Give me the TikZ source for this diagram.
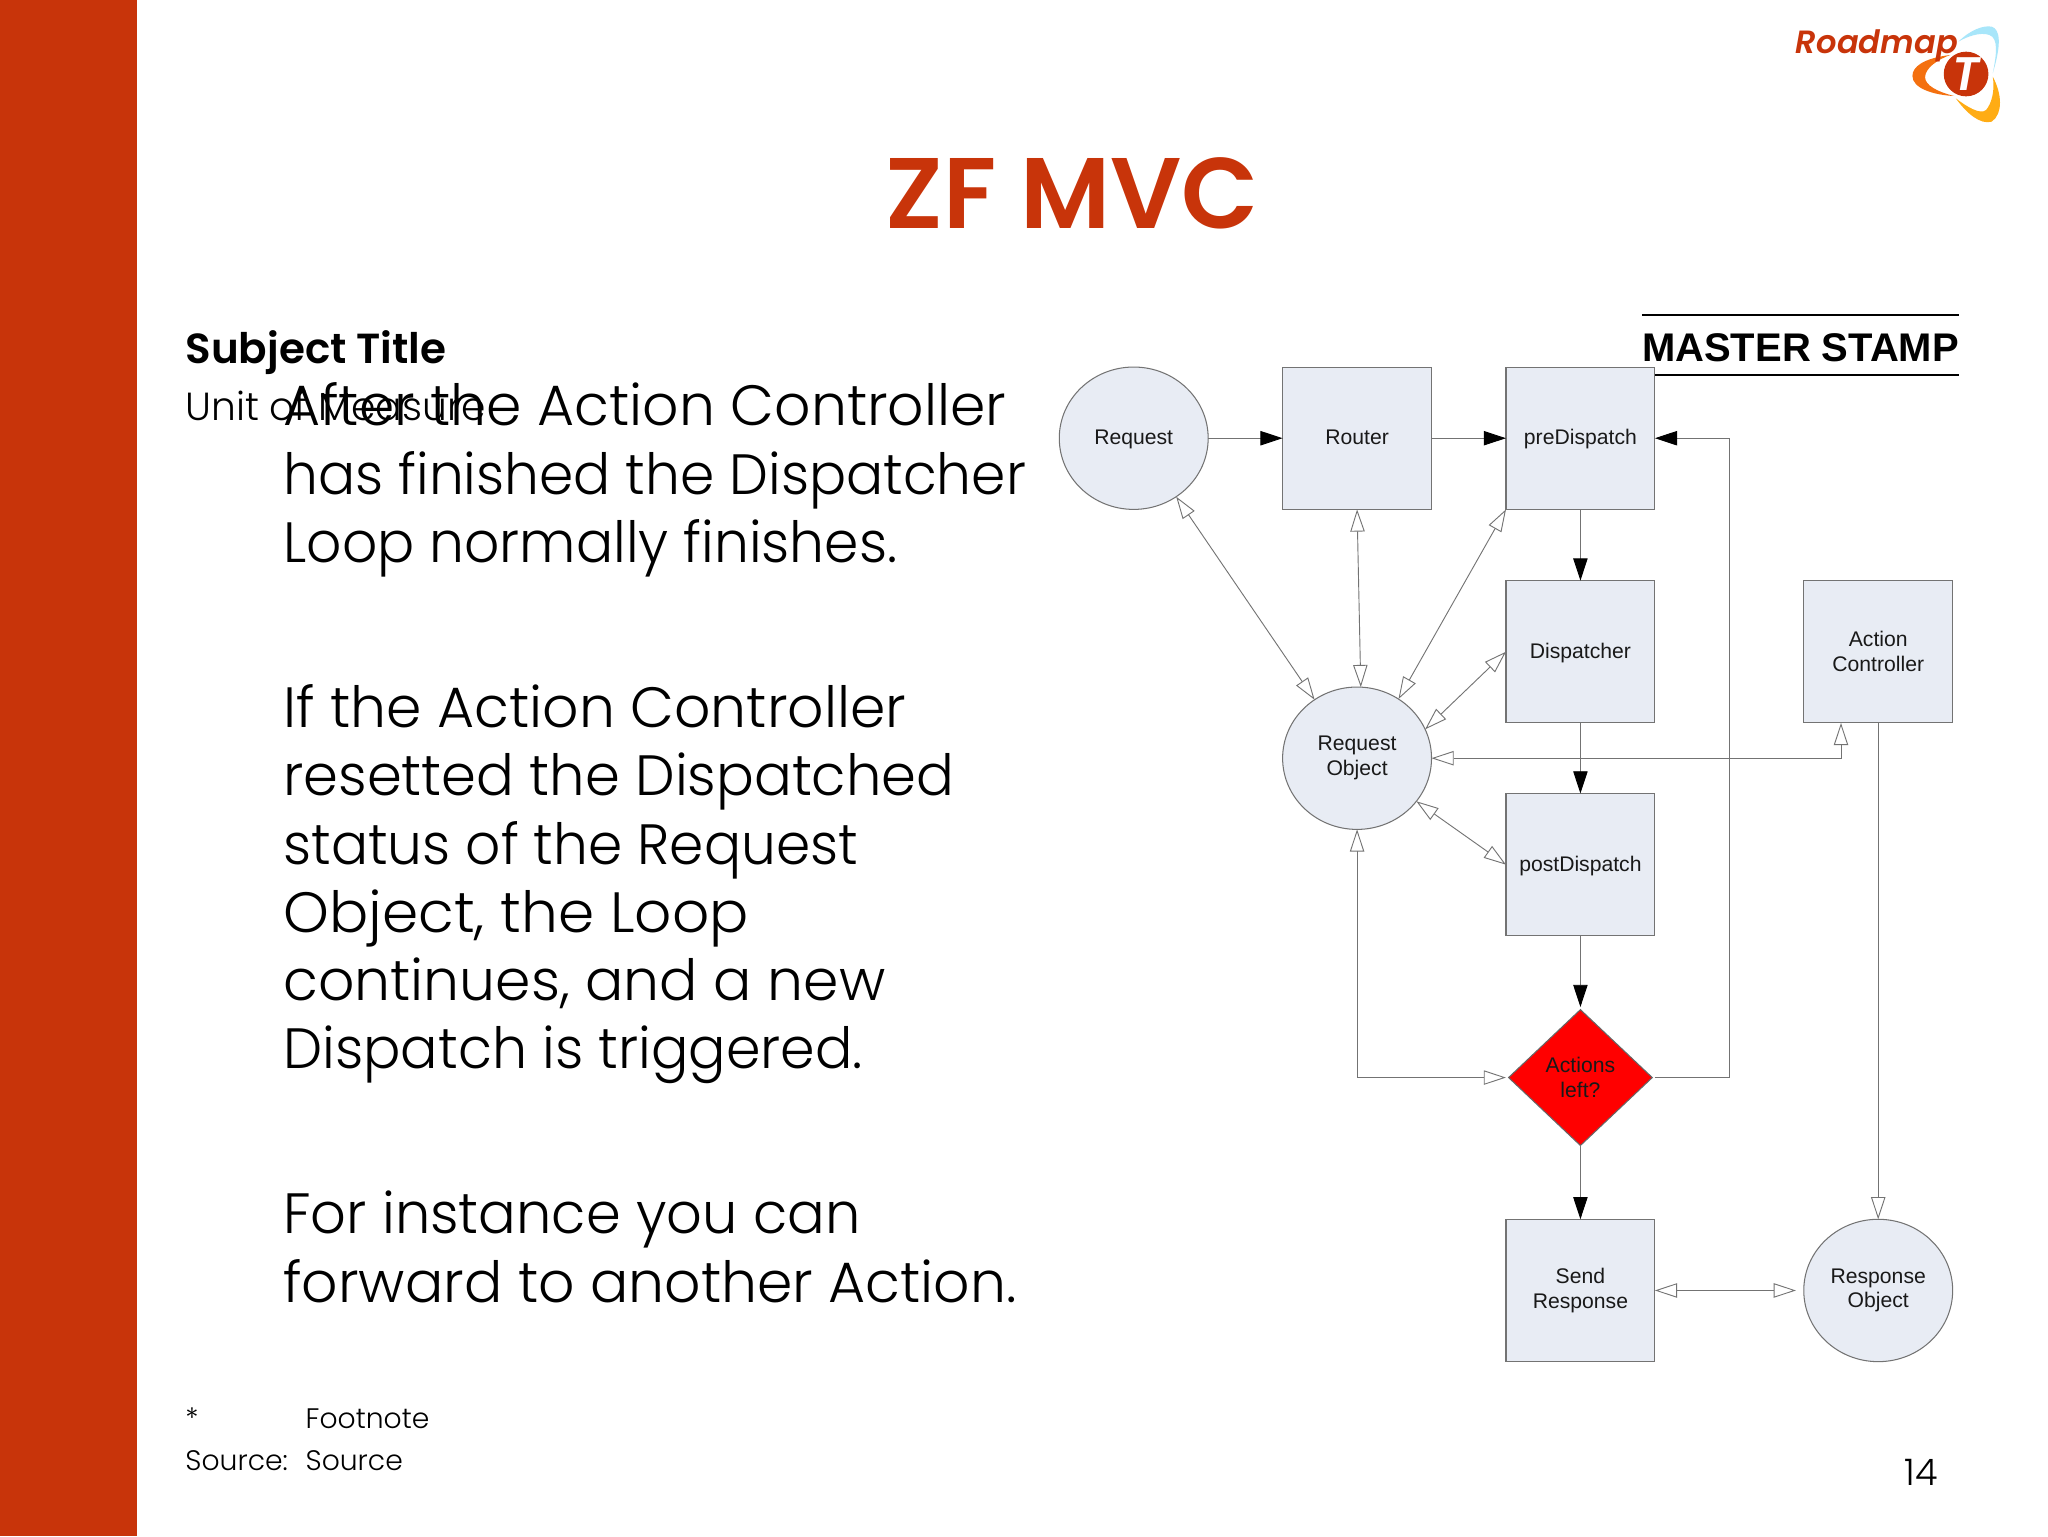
\documentclass[tikz,border=0pt]{standalone}
\usepackage{fontspec}
\setmainfont{Poppins Light}[BoldFont=Poppins SemiBold,ItalicFont=Poppins Light Italic,BoldItalicFont=Poppins SemiBold Italic]
\newfontfamily\arialf{Liberation Sans}
\usetikzlibrary{shapes.geometric,arrows.meta,calc}
\definecolor{brick}{HTML}{C8340A}
\definecolor{pale}{HTML}{E8ECF4}
\definecolor{edge}{gray}{0.45}
\definecolor{logoblue}{HTML}{A8E6FA}
\definecolor{logoorange}{HTML}{F4700F}
\definecolor{logoyellow}{HTML}{FFAC14}
\newcommand{\fs}[2]{\fontsize{#1}{#2}\selectfont}
\newcommand{\sq}[2]{\scalebox{#1}[1]{#2}}
\tikzset{
  boxnode/.style={draw=edge,fill=pale,line width=.8pt,minimum width=114pt,minimum height=109pt,inner sep=0pt,outer sep=0pt,align=center,font=\arialf\fs{16.2}{19},text=black!90},
  roundnode/.style={boxnode,ellipse},
  oneline/.style={text height=13.5pt,text depth=3.5pt},
  decide/.style={boxnode,diamond,fill=red,draw=black!60,minimum width=110pt,minimum height=104pt},
  link/.style={draw=edge,line width=.7pt},
  solidhead/.style={link,-{Triangle[length=17pt,width=11pt,fill=black,color=black]}},
  openhead/.style={link,-{Triangle[open,length=17pt,width=11pt,fill=white]}},
  openboth/.style={link,{Triangle[open,length=17pt,width=11pt,fill=white]}-{Triangle[open,length=17pt,width=11pt,fill=white]}},
  slide/.style={inner sep=0pt,outer sep=0pt,text=black},
  body/.style={slide,anchor=north west,align=left,font=\fs{43.5}{52.3}},
}
\begin{document}
\begin{tikzpicture}[x=1pt,y=-1pt]
\useasboundingbox (0,0) rectangle (1568,1176);
\fill[white] (0,0) rectangle (1568,1176);
\fill[brick] (0,0) rectangle (105,1176);
% logo
\begin{scope}[shift={(1339.9,0)},scale=0.2552]
\fill[logoblue] (625,125) .. controls (660,90) and (700,75) .. (725,80) .. controls (750,88) and (755,130) .. (728,220) .. controls (740,160) and (745,115) .. (718,105) .. controls (690,95) and (650,110) .. (625,125);
\fill[logoorange] (600,165) .. controls (520,175) and (487,200) .. (487,228) .. controls (487,265) and (550,285) .. (612,288) .. controls (560,275) and (525,255) .. (525,232) .. controls (525,205) and (560,180) .. (600,165);
\fill[logoyellow] (728,230) .. controls (755,280) and (760,340) .. (725,365) .. controls (690,375) and (650,340) .. (617,295) .. controls (650,320) and (690,345) .. (708,330) .. controls (725,310) and (735,270) .. (728,230);
\fill[brick] (648,222) circle (67);
\end{scope}
\node[slide,text=white,font=\bfseries\itshape\fs{36}{36}] (logoT) at (1505,57) {T};
\node[slide,anchor=base west,text=brick,font=\bfseries\itshape\fs{24.6}{25}] (logotext) at (1375,41) {Roadmap};
% title and texts
\node[slide,text=brick,font=\bfseries\fs{76.8}{80}] (title) at (821,148) {ZF MVC};
\node[slide,anchor=base west,font=\bfseries\fs{32.2}{34}] (subject) at (142,278) {Subject Title};
\node[slide,anchor=base west,font=\fs{30}{30}] (unit) at (142,322) {Unit of Measure};
\node[body] (p1) at (217,293) {After the Action Controller\\\sq{.969}{has finished the Dispatcher}\\\sq{.97}{Loop normally finishes.}};
\node[body] (p2) at (217,524) {If the Action Controller\\\sq{.986}{resetted the Dispatched}\\\sq{.968}{status of the Request}\\\sq{1.024}{Object, the Loop}\\continues, and a new\\\sq{.976}{Dispatch is triggered.}};
\node[body] (p3) at (217,912) {\sq{.983}{For instance you can}\\forward to another Action.};
\node[slide,anchor=base west,font=\fs{21.6}{22}] (star) at (142,1094) {*};
\node[slide,anchor=base west,font=\fs{21.6}{22}] (foot) at (234,1094) {Footnote};
\node[slide,anchor=base west,font=\fs{21.6}{22}] (srclab) at (142,1126) {Source:};
\node[slide,anchor=base west,font=\fs{21.6}{22}] (src) at (234,1126) {Source};
\node[slide,font=\fs{28}{28}] (page) at (1471,1127) {14};
% master stamp
\coordinate (stampTL) at (1257,241);
\coordinate (stampTR) at (1500,241);
\coordinate (stampBL) at (1257,287);
\coordinate (stampBR) at (1500,287);
\draw[line width=1.4pt] (stampTL) -- (stampTR);
\draw[line width=1.4pt] (stampBL) -- (stampBR);
\node[slide,font=\arialf\bfseries\fs{30.6}{30}] (stamp) at (1378.5,266) {MASTER STAMP};
% nodes
\node[roundnode,oneline] (req) at (868,335.5) {Request};
\node[boxnode,oneline] (router) at (1039,335.5) {Router};
\node[boxnode,oneline] (pre) at (1210,335.5) {preDispatch};
\node[boxnode,oneline] (disp) at (1210,499) {Dispatcher};
\node[boxnode] (ac) at (1438,499) {Action\\Controller};
\node[roundnode] (ro) at (1039,580.5) {Request\\Object};
\node[boxnode,oneline] (post) at (1210,662) {postDispatch};
\node[decide] (act) at (1210,825) {Actions\\left?};
\node[boxnode] (send) at (1210,988) {Send\\Response};
\node[roundnode] (resp) at (1438,988) {Response\\Object};
\coordinate (acp) at ($(ac.south west)!0.25!(ac.south east)$);
\coordinate (loopc) at (1324,825);
\coordinate (bottomc) at (1039,825);
% connectors
\draw[solidhead] (req) -- (router);
\draw[solidhead] (router) -- (pre);
\draw[solidhead] (pre) -- (disp);
\draw[solidhead] (disp) -- (post);
\draw[solidhead,shorten >=2pt] (post) -- (act);
\draw[solidhead] (act) -- (send);
\draw[solidhead,shorten <=2pt] (act.east) -- (loopc) |- (pre.east);
\draw[openboth] (req.-54) -- (ro.126.6);
\draw[openboth] (router.south) -- (ro.87);
\draw[openboth] (pre.south west) -- (ro.55);
\draw[openboth] (disp.west) -- (ro.23.4);
\draw[openboth] (post.west) -- (ro.-36);
\draw[openboth] (ro.east) -| (acp);
\draw[openboth,shorten >=2pt] (ro.south) -- (bottomc) -- (act.west);
\draw[openhead] (ac.south) -- (resp.north);
\draw[openboth,shorten >=6pt] (send.east) -- (resp.west);
\end{tikzpicture}
\end{document}
